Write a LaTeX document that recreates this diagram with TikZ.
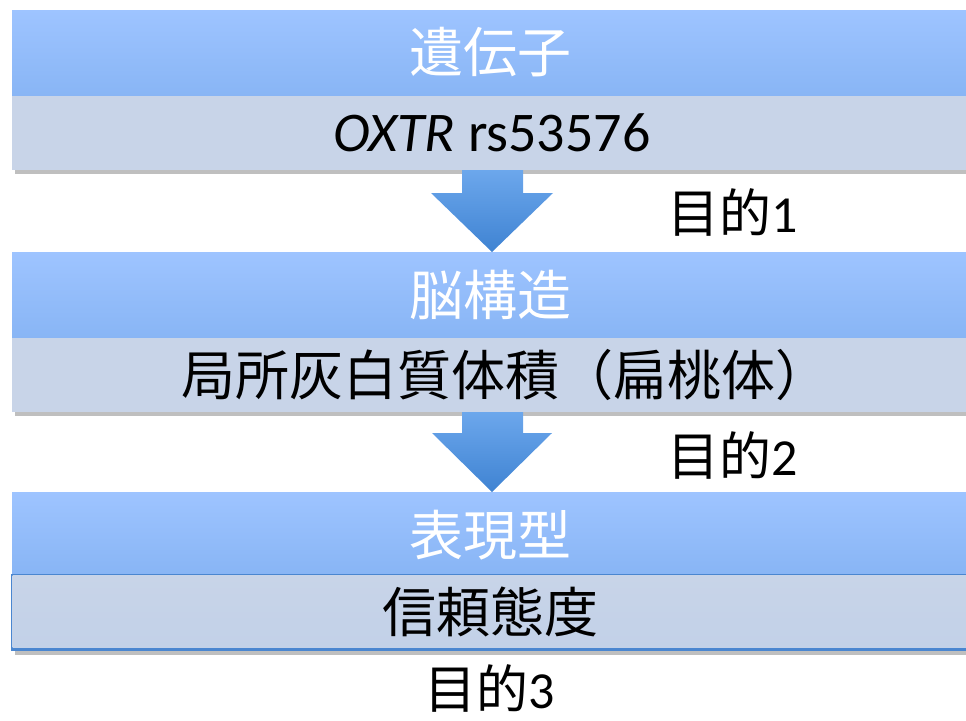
\documentclass[tikz,border=0pt]{standalone}
\usepackage{fontspec}
\setmainfont{Carlito}
\newfontfamily\cjk{Noto Sans CJK JP}
\definecolor{hdtop}{HTML}{9EC4FF}
\definecolor{hdbot}{HTML}{88B5F5}
\definecolor{bodyc}{HTML}{C8D4E8}
\definecolor{bodyd}{HTML}{C2D1E8}
\definecolor{arrtop}{HTML}{6CA7EC}
\definecolor{arrbot}{HTML}{3F83D2}
\definecolor{edgeblue}{HTML}{4A86D0}
\tikzset{
  hdr/.style={top color=hdtop, bottom color=hdbot, draw=none},
  bigarrow/.style={top color=arrtop, bottom color=arrbot, draw=none},
  wtxt/.style={text=white, font=\fontsize{54}{60}\selectfont\cjk, inner sep=0pt},
  btxt/.style={text=black, font=\fontsize{54}{60}\selectfont\cjk, inner sep=0pt},
  gtxt/.style={text=black, font=\fontsize{52}{60}\selectfont\cjk, inner sep=0pt},
  ltxt/.style={text=black, font=\fontsize{56}{60}\selectfont, inner sep=0pt},
}
\begin{document}
\begin{tikzpicture}[x=1pt,y=-1pt]
\useasboundingbox (0,0) rectangle (966,720);
% shadows
\fill[black!25] (15,14) rectangle (966,174);
\fill[black!25] (15,256) rectangle (966,416);
\fill[black!25] (15,496) rectangle (966,655);
% box 1
\shade[hdr] (12,10) rectangle (966,96);
\fill[bodyc] (12,96) rectangle (966,170);
% box 2
\shade[hdr] (12,252) rectangle (966,338);
\fill[bodyc] (12,338) rectangle (966,412);
% box 3
\shade[hdr] (12,492) rectangle (966,574);
\fill[edgeblue] (11,574) rectangle (966,651);
\shade[top color=bodyc, bottom color=bodyd] (12.5,575) rectangle (966,647.5);
% arrows
\shade[bigarrow] (462,170) -- (523,170) -- (523,193) -- (553,193) -- (492,252) -- (431,193) -- (462,193) -- cycle;
\shade[bigarrow] (462,412) -- (523,412) -- (523,433) -- (552,433) -- (492,492) -- (432,433) -- (462,433) -- cycle;
% texts
\node[wtxt] (t1) at (490,52) {遺伝子};
\node[ltxt] (t2) at (492,133) {\textit{OXTR} rs53576};
\node[gtxt] (g1) at (733,212) {目的\fontspec{Carlito}1};
\node[wtxt] (t3) at (490,295) {脳構造};
\node[btxt] (t4) at (505,375) {局所灰白質体積（扁桃体）};
\node[gtxt] (g2) at (733,455) {目的\fontspec{Carlito}2};
\node[wtxt] (t5) at (490,535) {表現型};
\node[btxt] (t6) at (490,612) {信頼態度};
\node[gtxt] (g3) at (490,688) {目的\fontspec{Carlito}3};
\end{tikzpicture}
\end{document}
